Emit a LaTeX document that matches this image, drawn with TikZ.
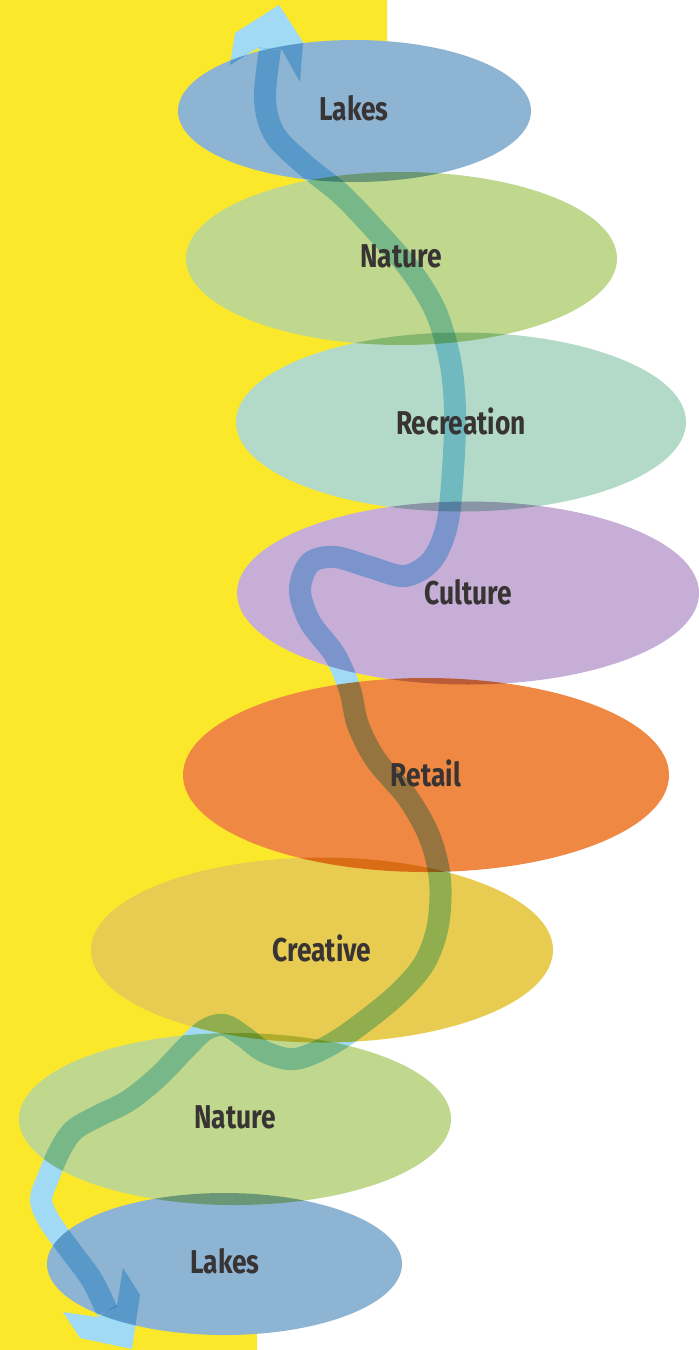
\documentclass[tikz,border=0pt]{standalone}
\usepackage{fontspec}
\newfontfamily\labelfont{Fira Sans}[FakeStretch=0.8]
\definecolor{bgyellow}{HTML}{FCE82A}
\definecolor{lakes}{HTML}{8DB4D3}
\definecolor{nature}{HTML}{C0D78E}
\definecolor{recreation}{HTML}{B3DAC8}
\definecolor{culture}{HTML}{C6AED6}
\definecolor{retail}{HTML}{EF8842}
\definecolor{creative}{HTML}{E8CC52}
\definecolor{river}{HTML}{A0DAF4}
\definecolor{ink}{HTML}{383434}
\tikzset{
  zone/.style={fill=#1, draw=none},
  lbl/.style={text=ink, font=\labelfont\bfseries\fontsize{16.5}{18}\selectfont, inner sep=0pt},
  riverline/.style={draw=river, line width=11pt, line cap=butt, line join=round},
  riverhead/.style={fill=river, draw=none}
}
\begin{document}
\begin{tikzpicture}[x=0.5pt, y=-0.5pt]
\useasboundingbox (0,0) rectangle (699,1350);
\fill[white] (0,0) rectangle (699,1350);
\fill[bgyellow] (0,0) -- (387,0) -- (387,950) -- (257,950) -- (257,1350) -- (0,1350) -- cycle;
\begin{scope}[transparency group]
  \begin{scope}[blend mode=multiply]
    \fill[zone=lakes] (354.5,111) ellipse [x radius=176.5, y radius=71];
    \fill[zone=nature] (401.5,258.5) ellipse [x radius=215.5, y radius=86.5];
    \fill[zone=recreation] (461,422) ellipse [x radius=225, y radius=89.5];
    \fill[zone=culture] (468,593) ellipse [x radius=231, y radius=91.5];
    \fill[zone=retail] (426,775) ellipse [x radius=243, y radius=97];
    \fill[zone=creative] (322,950) ellipse [x radius=231, y radius=92.5];
    \fill[zone=nature] (235,1119) ellipse [x radius=216, y radius=86];
    \fill[zone=lakes] (224.5,1264) ellipse [x radius=177.5, y radius=71];
    \draw[riverline] plot[smooth, tension=0.55] coordinates {
      (270,49) (265,100) (275,135) (305,165) (342,195) (380,235)
      (412,272) (436,312) (450,360) (455,410) (453,470) (447,525)
      (432,560) (405,576) (370,567) (335,557) (310,563)
      (300,590) (310,622) (335,655) (350,690) (358,725) (376,760)
      (408,798) (430,838) (440,880) (438,925) (425,962) (400,992)
      (365,1021) (330,1045) (295,1059) (265,1052) (243,1036) (224,1025)
      (205,1030) (184,1050) (158,1077) (128,1101) (98,1116) (74,1130)
      (60,1150) (48,1178) (41,1200) (50,1222) (70,1250) (92,1280)
      (107,1311)};
    \fill[riverhead] (230,65) -- (235,33) -- (279,5) -- (303,42) -- (300,82) -- (282,50) -- (258,48) -- cycle;
    \fill[riverhead] (63,1312) -- (80,1338) -- (132,1349) -- (140,1295) -- (123,1268) -- (117,1305) -- (97,1317) -- cycle;
  \end{scope}
\end{scope}
\node[lbl] (lakesA) at (354,108) {Lakes};
\node[lbl] (natureA) at (401,256) {Nature};
\node[lbl] (recreation) at (461,421) {Recreation};
\node[lbl] (culture) at (468,592) {Culture};
\node[lbl] (retail) at (426,773) {Retail};
\node[lbl] (creative) at (322,948) {Creative};
\node[lbl] (natureB) at (235,1117) {Nature};
\node[lbl] (lakesB) at (225,1261) {Lakes};
\end{tikzpicture}
\end{document}
